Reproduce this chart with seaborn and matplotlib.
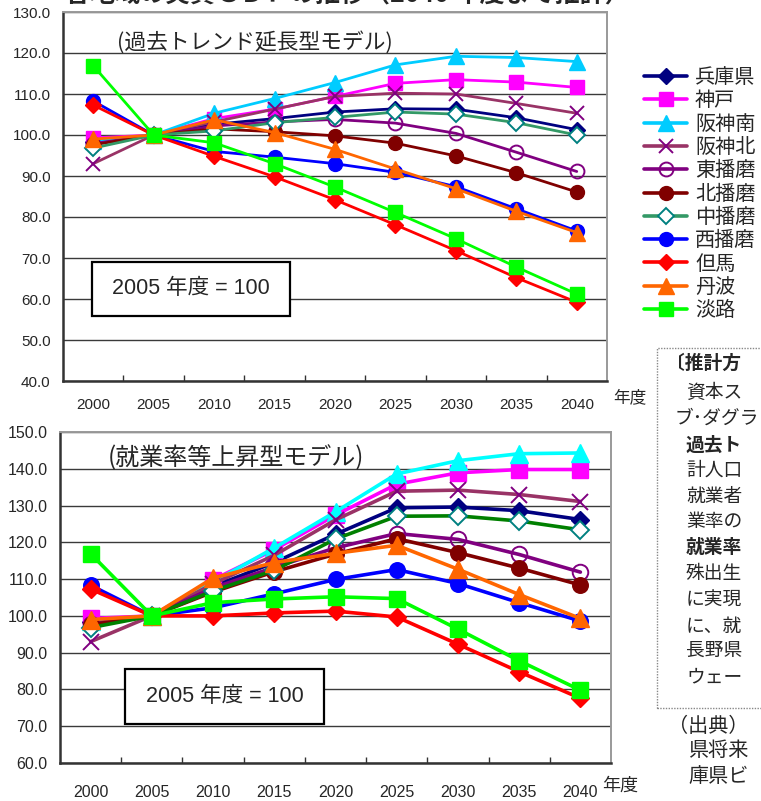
import matplotlib
matplotlib.use("Agg")
import matplotlib.pyplot as plt
import matplotlib.patches as patches
from matplotlib.ticker import FixedLocator, FormatStrFormatter
import numpy as np
import pandas as pd
import seaborn as sns

# ---- data -------------------------------------------------------------
years = [2000, 2005, 2010, 2015, 2020, 2025, 2030, 2035, 2040]
regions = ["兵庫県", "神戸", "阪神南", "阪神北", "東播磨", "北播磨",
           "中播磨", "西播磨", "但馬", "丹波", "淡路"]

# 過去トレンド延長型モデル (2005 = 100)
trend_hyogo    = [98.3, 100, 102.6, 104.0, 105.6, 106.4, 106.3, 104.2, 101.3]
trend_kobe     = [99.3, 100, 104.0, 106.3, 109.4, 112.6, 113.5, 112.9, 111.6]
trend_hanshin_s = [98.6, 100, 105.3, 108.9, 112.8, 117.1, 119.2, 118.9, 117.9]
trend_hanshin_n = [93.0, 100, 103.2, 106.3, 109.4, 110.2, 110.0, 107.7, 105.3]
trend_higashi  = [97.9, 100, 102.2, 103.2, 103.8, 102.9, 100.4, 95.8, 91.1]
trend_kita     = [97.6, 100, 101.5, 100.8, 99.8, 98.0, 94.9, 90.8, 86.1]
trend_naka     = [96.8, 100, 101.0, 103.0, 104.3, 105.6, 105.1, 103.0, 100.0]
trend_nishi    = [108.3, 100, 96.0, 94.6, 93.0, 90.9, 87.4, 82.0, 76.6]
trend_tajima   = [107.3, 100, 94.8, 89.8, 84.2, 78.1, 71.8, 65.2, 59.2]
trend_tamba    = [99.0, 100, 103.7, 100.6, 96.5, 91.7, 86.9, 81.4, 76.2]
trend_awaji    = [116.9, 100, 98.1, 93.0, 87.3, 81.1, 74.7, 67.8, 61.2]

# 就業率等上昇型モデル (2005 = 100)
rise_hyogo    = [98.3, 100, 108.0, 114.5, 122.2, 129.4, 129.6, 128.6, 126.2]
rise_kobe     = [99.3, 100, 109.8, 118.0, 127.4, 135.8, 138.9, 139.8, 139.8]
rise_hanshin_s = [98.6, 100, 109.2, 118.5, 128.3, 138.6, 142.2, 144.1, 144.3]
rise_hanshin_n = [93.0, 100, 108.7, 116.5, 126.1, 133.9, 134.2, 133.0, 131.1]
rise_higashi  = [97.9, 100, 107.6, 113.2, 118.5, 122.4, 120.8, 116.7, 111.9]
rise_kita     = [97.6, 100, 106.5, 112.0, 116.8, 121.0, 117.2, 113.0, 108.4]
rise_naka     = [96.8, 100, 106.8, 112.4, 120.9, 127.1, 127.2, 125.8, 123.4]
rise_nishi    = [108.3, 100, 102.2, 106.0, 109.9, 112.6, 108.8, 103.6, 98.6]
rise_tajima   = [107.3, 100, 100.0, 100.8, 101.3, 99.7, 92.3, 84.8, 77.6]
rise_tamba    = [99.0, 100, 110.3, 114.5, 117.0, 119.2, 112.7, 105.8, 99.3]
rise_awaji    = [116.9, 100, 103.6, 104.6, 105.2, 104.7, 96.4, 87.8, 79.8]

trend_values = [trend_hyogo, trend_kobe, trend_hanshin_s, trend_hanshin_n,
                trend_higashi, trend_kita, trend_naka, trend_nishi,
                trend_tajima, trend_tamba, trend_awaji]
rise_values = [rise_hyogo, rise_kobe, rise_hanshin_s, rise_hanshin_n,
               rise_higashi, rise_kita, rise_naka, rise_nishi,
               rise_tajima, rise_tamba, rise_awaji]

trend_title = "(過去トレンド延長型モデル)"
rise_title = "(就業率等上昇型モデル)"
base_label = "2005 年度 = 100"
heading = "各地域の実質ＧＤＰの推移（2040 年度まで推計）"

note_lines = [
    ("〔推計方", True),
    ("資本ス", False),
    ("ブ･ダグラ", False),
    ("過去ト", True),
    ("計人口", False),
    ("就業者", False),
    ("業率の", False),
    ("就業率", True),
    ("殊出生", False),
    ("に実現", False),
    ("に、就", False),
    ("長野県", False),
    ("ウェー", False),
]
source_lines = ["（出典）", "県将来", "庫県ビ"]

# ---- styles -----------------------------------------------------------
W, H = 761, 801
FONT_CJK = "Noto Sans CJK JP"
sns.set_theme(style="white")
plt.rcParams["font.family"] = ["Liberation Sans", FONT_CJK, "DejaVu Sans"]

styles = {
    "兵庫県": dict(color="#000080", marker="D", mfc="#000080", mec="#000080", ms=8),
    "神戸":   dict(color="#FF00FF", marker="s", mfc="#FF00FF", mec="#FF00FF", ms=10),
    "阪神南": dict(color="#00CCFF", marker="^", mfc="#00CCFF", mec="#00CCFF", ms=11),
    "阪神北": dict(color="#993366", marker="x", mfc="none", mec="#800080", ms=10, mew=1.4),
    "東播磨": dict(color="#800080", marker="o", mfc="none", mec="#800080", ms=10, mew=1.4),
    "北播磨": dict(color="#800000", marker="o", mfc="#800000", mec="#800000", ms=10),
    "中播磨": dict(color="#339966", marker="D", mfc="white", mec="#008080", ms=8.5, mew=1.4),
    "西播磨": dict(color="#0000FF", marker="o", mfc="#0000FF", mec="#0000FF", ms=10),
    "但馬":   dict(color="#FF0000", marker="D", mfc="#FF0000", mec="#FF0000", ms=8.5),
    "丹波":   dict(color="#FF6600", marker="^", mfc="#FF6600", mec="#FF6600", ms=11),
    "淡路":   dict(color="#00FF00", marker="s", mfc="#00FF00", mec="#00FF00", ms=10),
}
# second panel uses brighter cyan / green lines for two regions
rise_line_override = {"阪神南": "#00FFFF", "中播磨": "#008000"}
rise_marker_override = {"阪神南": "#00FFFF"}

fig = plt.figure(figsize=(W / 100, H / 100), dpi=100)


def px_box(x0, y0, x1, y1):
    return [x0 / W, 1 - y1 / H, (x1 - x0) / W, (y1 - y0) / H]


def draw_panel(ax, values, ylo, yhi, lw, ms_scale, line_over, marker_over,
               xpad, tick_fs):
    pos = np.arange(len(years))
    for name, vals in zip(regions, values):
        st = dict(styles[name])
        col = line_over.get(name, st["color"])
        mfc = st["mfc"]
        mec = st["mec"]
        if name in marker_over:
            mfc = mec = marker_over[name]
        df = pd.DataFrame({"pos": pos, "val": vals})
        sns.lineplot(data=df, x="pos", y="val", ax=ax, color=col, lw=lw,
                     marker=st["marker"], markersize=st["ms"] * ms_scale,
                     markerfacecolor=mfc, markeredgecolor=mec,
                     markeredgewidth=st.get("mew", 1.0), label=name,
                     legend=False, sort=False, clip_on=False, zorder=3)
    ax.set_xlim(-0.5, len(years) - 0.5)
    ax.set_ylim(ylo, yhi)
    ax.set_xlabel("")
    ax.set_ylabel("")
    ax.set_yticks(np.arange(ylo, yhi + 1, 10))
    ax.yaxis.set_major_formatter(FormatStrFormatter("%.1f"))
    ax.set_xticks(pos)
    ax.set_xticklabels([str(y) for y in years], fontsize=tick_fs)
    ax.xaxis.set_minor_locator(FixedLocator(np.arange(0.5, len(years) - 0.5, 1)))
    ax.tick_params(axis="x", which="major", length=0, pad=xpad)
    ax.tick_params(axis="x", which="minor", direction="in", length=4.5,
                   width=1, color="#333333", bottom=True)
    ax.tick_params(axis="y", length=0, pad=9, labelsize=tick_fs)
    ax.grid(axis="y", color="#3a3a3a", lw=1.0)
    ax.set_axisbelow(True)
    for s in ("left", "bottom"):
        ax.spines[s].set_color("#333333")
        ax.spines[s].set_linewidth(1.8)
    for s in ("top", "right"):
        ax.spines[s].set_color("#999999")
        ax.spines[s].set_linewidth(1.4)


ax1 = fig.add_axes(px_box(63, 12, 607, 381))
draw_panel(ax1, trend_values, 40, 130, 2.0, 1.0, {}, {}, 12, 11)

ax2 = fig.add_axes(px_box(60, 432, 611, 763))
draw_panel(ax2, rise_values, 60, 150, 2.6, 1.12, rise_line_override,
           rise_marker_override, 16, 11.5)

# panel captions
fig.text(117 / W, 1 - 42 / H, trend_title, fontsize=15.7, va="center", ha="left",
         family=[FONT_CJK, "DejaVu Sans"])
fig.text(108 / W, 1 - 458 / H, rise_title, fontsize=17.3, va="center", ha="left",
         family=[FONT_CJK, "DejaVu Sans"])

# "2005 年度 = 100" boxes
for (x0, y0, x1, y1) in [(92, 262, 290, 316), (125, 669, 324, 724)]:
    fig.add_artist(patches.Rectangle((x0 / W, 1 - y1 / H), (x1 - x0) / W, (y1 - y0) / H,
                                     transform=fig.transFigure, facecolor="white",
                                     edgecolor="black", lw=1.6, zorder=5))
    fig.text((x0 + x1) / 2 / W, 1 - (y0 + y1) / 2 / H, base_label, fontsize=15.5,
             ha="center", va="center", zorder=6)

# axis unit labels
fig.text(613 / W, 1 - 398 / H, "年度", fontsize=12, va="center", ha="left",
         family=[FONT_CJK])
fig.text(602 / W, 1 - 786 / H, "年度", fontsize=13, va="center", ha="left",
         family=[FONT_CJK])

# legend shared by both panels
handles, labels = ax1.get_legend_handles_labels()
leg = fig.legend(handles, labels, loc="upper left",
                 bbox_to_anchor=(644 / W, 1 - 67 / H),
                 frameon=False, handlelength=2.15, handletextpad=0.38,
                 labelspacing=0.115, borderpad=0, borderaxespad=0,
                 prop={"family": [FONT_CJK], "size": 14.5})
for h in leg.legend_handles:
    h.set_linewidth(2.6)

# heading (runs off the top edge of the page)
fig.text(347 / W, 1 + 5 / H, heading,
         fontsize=18, fontweight="bold", ha="center", va="center",
         family=[FONT_CJK])

# method note box (continues past the right edge)
fig.add_artist(patches.Rectangle((657 / W, 1 - 708 / H), 200 / W, 360 / H,
                                 transform=fig.transFigure, facecolor="none",
                                 edgecolor="#888888", lw=1.0, linestyle=(0, (1, 1))))
note_y = [363, 392, 418, 445, 470, 496, 521, 547, 574, 600, 626, 650, 677]
note_x = [666, 686, 675, 686, 686, 686, 686, 686, 686, 686, 686, 686, 686]
for (txt, bold), x, y in zip(note_lines, note_x, note_y):
    fig.text(x / W, 1 - y / H, txt, fontsize=13.5, va="center", ha="left",
             fontweight="bold" if bold else "normal", family=[FONT_CJK])
for txt, x, y in zip(source_lines, [668, 688, 688], [727, 751, 776]):
    fig.text(x / W, 1 - y / H, txt, fontsize=14.5, va="center", ha="left",
             family=[FONT_CJK])

fig.savefig("out.png", dpi=100)
